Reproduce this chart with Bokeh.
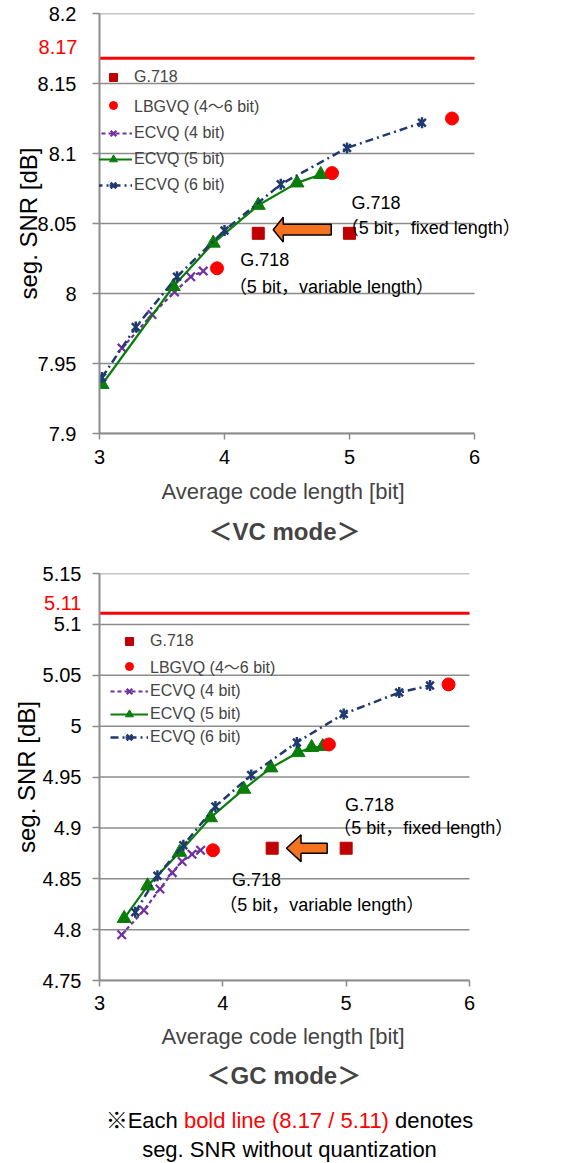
import math
from bokeh.plotting import figure
from bokeh.models import (FixedTicker, Label, Legend, LegendItem, Title, Div, LinearAxis)
from bokeh.layouts import column
from bokeh.embed import file_html
from bokeh.resources import INLINE

FONT = "Liberation Sans, Noto Sans CJK JP"

# ---------------- data: VC mode ----------------
vc_g718_x = [4.27, 5.00]
vc_g718_y = [8.043, 8.043]
vc_lbg_x = [3.94, 4.86, 5.82]
vc_lbg_y = [8.018, 8.086, 8.125]
vc_e4_x = [3.18, 3.42, 3.60, 3.73, 3.83]
vc_e4_y = [7.961, 7.985, 8.001, 8.012, 8.016]
vc_e5_x = [3.02, 3.59, 3.91, 4.27, 4.58, 4.77]
vc_e5_y = [7.935, 8.005, 8.036, 8.063, 8.079, 8.085]
vc_e6_x = [3.02, 3.29, 3.62, 4.00, 4.45, 4.98, 5.58]
vc_e6_y = [7.940, 7.976, 8.012, 8.045, 8.078, 8.104, 8.122]
vc_ref = 8.168
vc_ref_label = "8.17"
vc_yticks = [7.9, 7.95, 8.0, 8.05, 8.1, 8.15, 8.2]
vc_ytick_labels = ["7.9", "7.95", "8", "8.05", "8.1", "8.15", "8.2"]
vc_title = "＜VC mode＞"

# ---------------- data: GC mode ----------------
gc_g718_x = [4.40, 5.00]
gc_g718_y = [4.880, 4.880]
gc_lbg_x = [3.92, 4.86, 5.83]
gc_lbg_y = [4.878, 4.982, 5.041]
gc_e4_x = [3.18, 3.36, 3.49, 3.59, 3.67, 3.75, 3.82]
gc_e4_y = [4.795, 4.819, 4.840, 4.856, 4.867, 4.874, 4.878]
gc_e5_x = [3.20, 3.39, 3.65, 3.90, 4.17, 4.39, 4.61, 4.72, 4.81]
gc_e5_y = [4.811, 4.843, 4.876, 4.910, 4.938, 4.959, 4.974, 4.979, 4.980]
gc_e6_x = [3.29, 3.47, 3.68, 3.94, 4.23, 4.60, 4.98, 5.43, 5.68]
gc_e6_y = [4.817, 4.853, 4.883, 4.921, 4.952, 4.984, 5.012, 5.033, 5.040]
gc_ref = 5.111
gc_ref_label = "5.11"
gc_yticks = [4.75, 4.8, 4.85, 4.9, 4.95, 5.0, 5.05, 5.1, 5.15]
gc_ytick_labels = ["4.75", "4.8", "4.85", "4.9", "4.95", "5", "5.05", "5.1", "5.15"]
gc_title = "＜GC mode＞"

xticks = [3, 4, 5, 6]
xtick_labels = ["3", "4", "5", "6"]

series_names = ["G.718", "LBGVQ (4～6 bit)", "ECVQ (4 bit)", "ECVQ (5 bit)", "ECVQ (6 bit)"]
note_fixed = ["G.718", "（5 bit，fixed length）"]
note_var = ["G.718", "（5 bit，variable length）"]
x_label = "Average code length [bit]"
y_label = "seg. SNR [dB]"
footnote_a = "※Each "
footnote_red = "bold line (8.17 / 5.11)"
footnote_b = " denotes"
footnote_c = "seg. SNR without quantization"

GRID = "#8C8C8C"
C_G718 = "#C00000"
C_LBG = "#FF0000"
C_E4 = "#7030A0"
C_E5 = "#0A7D0A"
C_E6 = "#1F3A6E"
C_ARROW = "#F5731E"
C_REF = "#FF0000"
W = 569
FRAME_LEFT = 99


def make_chart(d):
    # the frame runs to the right edge so that notes may pass x = 6 unclipped
    px_per_unit = (d["x6_px"] - FRAME_LEFT) / 3.0
    x_end = 6 + (W - d["x6_px"]) / px_per_unit
    p = figure(width=W, height=d["height"], x_range=(3, x_end), y_range=d["yr"],
               output_backend="svg", toolbar_location=None, title=None,
               y_axis_location=None,
               min_border_left=FRAME_LEFT, min_border_right=0,
               min_border_top=d["bt"], min_border_bottom=115)
    p.outline_line_color = None
    p.background_fill_color = "white"
    p.border_fill_color = "white"
    p.xgrid.grid_line_color = None

    # x axis
    xa = p.xaxis[0]
    xa.bounds = (3, 6)
    xa.ticker = FixedTicker(ticks=xticks)
    xa.major_label_overrides = dict(zip(xticks, xtick_labels))
    xa.major_label_standoff = d["xstand"]
    xa.axis_line_color = GRID
    xa.axis_line_width = 2
    xa.major_tick_line_color = GRID
    xa.major_tick_line_width = 1.5
    xa.minor_tick_line_color = None
    xa.major_tick_in = 0
    xa.major_tick_out = 6
    xa.major_label_text_font = FONT
    xa.major_label_text_font_size = "20px"
    xa.major_label_text_color = "black"

    # inner y axis: rule, tick marks and the red value of the bold line
    ya_in = LinearAxis(ticker=FixedTicker(ticks=[d["ref_lab_y"]], minor_ticks=d["yticks"]),
                       major_label_overrides={d["ref_lab_y"]: d["ref_label"]},
                       axis_line_color=GRID, axis_line_width=2,
                       major_tick_line_color=None, major_tick_out=0, major_tick_in=0,
                       minor_tick_line_color=GRID, minor_tick_line_width=1.5,
                       minor_tick_out=7, minor_tick_in=0,
                       major_label_standoff=d["refstand"], major_label_text_color=C_REF,
                       major_label_text_font=FONT, major_label_text_font_size="20px")
    p.add_layout(ya_in, "left")
    # outer y axis: tick labels and axis title
    ya_out = LinearAxis(ticker=FixedTicker(ticks=d["yticks"]),
                        major_label_overrides=dict(zip(d["yticks"], d["ylabels"])),
                        axis_line_color=None, major_tick_line_color=None,
                        minor_tick_line_color=None, major_tick_out=0, major_tick_in=0,
                        major_label_standoff=d["ystand"], major_label_text_color="black",
                        major_label_text_font=FONT, major_label_text_font_size="20px",
                        axis_label=y_label, axis_label_standoff=d["ylstand"],
                        axis_label_text_font=FONT, axis_label_text_font_size="24px",
                        axis_label_text_font_style="normal", axis_label_text_color="black")
    p.add_layout(ya_out, "left")

    # horizontal grid lines from 3 to 6
    p.ygrid.grid_line_color = None
    n = len(d["yticks"])
    p.segment(x0=[3] * n, y0=d["yticks"], x1=[6] * n, y1=d["yticks"],
              line_color=GRID, line_width=1.5)
    # bold reference line
    p.segment(x0=[3], y0=[d["ref"]], x1=[6], y1=[d["ref"]], line_color=C_REF, line_width=3)

    # series
    r4l = p.line(d["e4x"], d["e4y"], line_color=C_E4, line_width=2.2, line_dash="4 3")
    r4m = p.scatter(d["e4x"], d["e4y"], marker="x", size=12, line_color=C_E4, line_width=2.2)
    r5l = p.line(d["e5x"], d["e5y"], line_color=C_E5, line_width=2.2)
    r5m = p.scatter(d["e5x"], d["e5y"], marker="triangle", size=14, fill_color=C_E5,
                    line_color=C_E5)
    r6l = p.line(d["e6x"], d["e6y"], line_color=C_E6, line_width=2.5, line_dash="8 4 2 4")
    r6m = p.scatter(d["e6x"], d["e6y"], marker="x", size=11, line_color=C_E6, line_width=2.5)
    r6v = p.scatter(d["e6x"], d["e6y"], marker="dash", angle=math.pi / 2, size=11,
                    line_color=C_E6, line_width=2.5)
    rl = p.scatter(d["lx"], d["ly"], marker="circle", size=13, fill_color=C_LBG, line_color=C_LBG)
    rg = p.scatter(d["gx"], d["gy"], marker="square", size=12, fill_color=C_G718, line_color=C_G718)

    # arrow
    tail, tip, head, yc, bh, hh = d["arrow"]
    xs = [tip, head, head, tail, tail, head, head]
    ys = [yc, yc + hh, yc + bh, yc + bh, yc - bh, yc - bh, yc - hh]
    p.patch(xs, ys, fill_color=C_ARROW, line_color="black", line_width=1.5)

    # notes
    for txt, x, y in d["notes"]:
        p.add_layout(Label(x=x, y=y, text=txt, text_align="left", text_baseline="middle",
                           text_font=FONT, text_font_size="18px", text_color="black"))

    items = [LegendItem(label=series_names[0], renderers=[rg]),
             LegendItem(label=series_names[1], renderers=[rl]),
             LegendItem(label=series_names[2], renderers=[r4l, r4m]),
             LegendItem(label=series_names[3], renderers=[r5l, r5m]),
             LegendItem(label=series_names[4], renderers=[r6l, r6m, r6v])]
    leg = Legend(items=items, location=d["legloc"], spacing=d["legsp"], padding=0, margin=0,
                 glyph_width=38, glyph_height=20, label_height=20, label_standoff=2,
                 label_text_font=FONT, label_text_font_size="16px",
                 border_line_color=None, background_fill_alpha=0)
    p.add_layout(leg, "center")

    p.add_layout(Title(text=x_label, align="left", offset=d["xl_off"], vertical_align="middle",
                       text_font=FONT, text_font_size="22px", text_font_style="normal",
                       standoff=d["xl_stand"]), "below")
    p.add_layout(Title(text=d["title"], align="left", offset=d["t_off"], vertical_align="middle",
                       text_font=FONT, text_font_size="24px", text_font_style="bold",
                       text_line_height=0.75, standoff=d["t_stand"]), "below")
    return p


vc = dict(height=548, yr=(7.9, 8.2), x6_px=474, bt=13,
          yticks=vc_yticks, ylabels=vc_ytick_labels, ref=vc_ref, ref_label=vc_ref_label,
          ref_lab_y=8.176, refstand=15, xstand=10, ystand=-41, ylstand=-7,
          e4x=vc_e4_x, e4y=vc_e4_y, e5x=vc_e5_x, e5y=vc_e5_y, e6x=vc_e6_x, e6y=vc_e6_y,
          lx=vc_lbg_x, ly=vc_lbg_y, gx=vc_g718_x, gy=vc_g718_y,
          arrow=(4.854, 4.39, 4.47, 8.0456, 0.0039, 0.0089),
          notes=[(note_fixed[0], 5.015, 8.065), (note_fixed[1], 4.93, 8.047),
                 (note_var[0], 4.125, 8.0236), (note_var[1], 4.035, 8.005)],
          legloc=(-5, 238), legsp=6, title=vc_title,
          xl_off=62, xl_stand=23, t_off=109, t_stand=0)

gc = dict(height=547, yr=(4.75, 5.15), x6_px=469, bt=25,
          yticks=gc_yticks, ylabels=gc_ytick_labels, ref=gc_ref, ref_label=gc_ref_label,
          ref_lab_y=5.121, refstand=11, xstand=9, ystand=-40, ylstand=0,
          e4x=gc_e4_x, e4y=gc_e4_y, e5x=gc_e5_x, e5y=gc_e5_y, e6x=gc_e6_x, e6y=gc_e6_y,
          lx=gc_lbg_x, ly=gc_lbg_y, gx=gc_g718_x, gy=gc_g718_y,
          arrow=(4.846, 4.516, 4.634, 4.880, 0.0049, 0.0132),
          notes=[(note_fixed[0], 4.99, 4.9225), (note_fixed[1], 4.895, 4.900),
                 (note_var[0], 4.075, 4.849), (note_var[1], 3.97, 4.8245)],
          legloc=(11, 233), legsp=3, title=gc_title,
          xl_off=62, xl_stand=21, t_off=107, t_stand=0)

p1 = make_chart(vc)
p2 = make_chart(gc)

foot = Div(text=(footnote_a + '<span style="color:#FF0000">' + footnote_red + '</span>'
                 + footnote_b + '<br>' + footnote_c),
           width=W, height=68,
           styles={"font-family": FONT, "font-size": "22px", "line-height": "29px",
                   "text-align": "center", "width": "569px", "padding-top": "6px",
                   "color": "black"})

layout = column(p1, p2, foot, spacing=0)
open("out.html", "w").write(file_html(layout, INLINE))
